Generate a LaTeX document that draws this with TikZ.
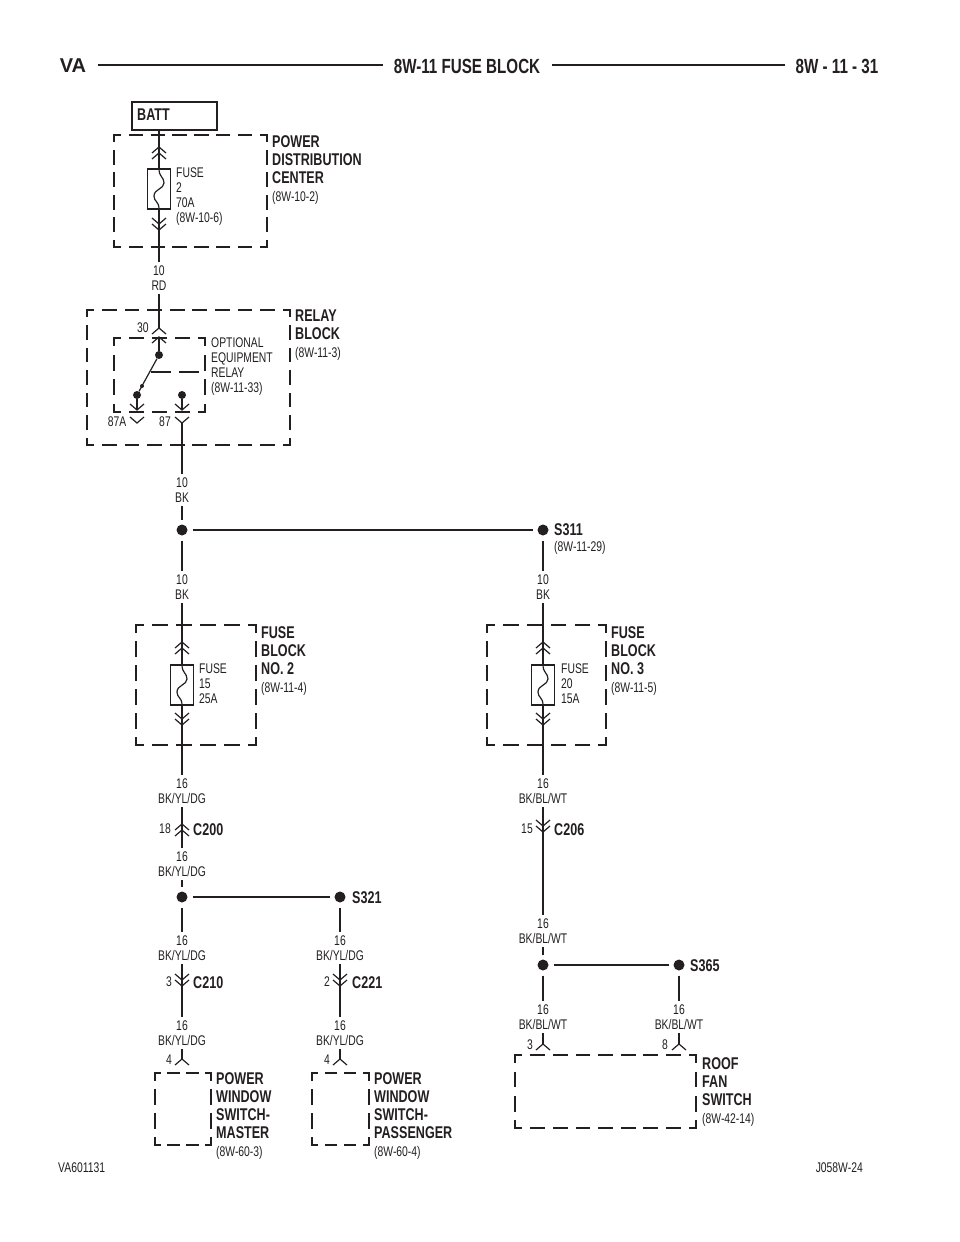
\documentclass[tikz,border=0pt]{standalone}
\usepackage{fontspec}
\setmainfont[FakeStretch=.74]{Liberation Sans}
\newfontfamily\vafont{Liberation Sans}
\usetikzlibrary{positioning, calc}
\definecolor{ink}{HTML}{231F20}
\newcommand{\smalltxt}{\fontsize{14}{14.5}\selectfont\mdseries}
\newcommand{\headtxt}{\fontsize{17}{18}\selectfont\bfseries}
\tikzset{
    wire/.style={ink, line width=1.2pt},
    bus/.style={ink, line width=2.4pt},
    dashbox/.style={ink, line width=2.3pt, line cap=rect},
    splice/.style={shape=circle, fill=ink, inner sep=0pt, minimum size=11pt, outer sep=5pt},
    pin/.style={shape=circle, fill=ink, inner sep=0pt, minimum size=8pt},
    wirelabel/.style={ink, align=center, font=\smalltxt, inner sep=1pt, outer sep=3pt},
    pinlabel/.style={ink, font=\smalltxt, inner sep=0pt},
    heading/.style={ink, align=left, anchor=north west, font=\headtxt, inner sep=0pt},
    fusetext/.style={ink, align=left, anchor=north west, font=\fontsize{14}{15}\selectfont, inner sep=0pt},
    fusebox/.style={draw=ink, line width=1.2pt, minimum width=23pt, minimum height=40pt, inner sep=0pt},
    title/.style={ink, font=\fontsize{20.5}{22}\selectfont\bfseries, inner sep=0pt},
    chevup/.pic={\draw[wire] (-7,6) -- (0,0) -- (7,6);},
    chevdown/.pic={\draw[wire] (-7,-6) -- (0,0) -- (7,-6);},
    dblup/.pic={\draw[wire] (-7,0) -- (0,-6) -- (7,0) (-7,6) -- (0,0) -- (7,6);},
    dbldown/.pic={\draw[wire] (-7,-6) -- (0,0) -- (7,-6) (-7,0) -- (0,6) -- (7,0);},
    fusecurve/.pic={\draw[wire] (0,-20) .. controls (0,-12) and (5,-12) .. (5,-6) .. controls (5,0) and (-5,0) .. (-5,7) .. controls (-5,13) and (0,12) .. (0,20);},
}
\begin{document}
\begin{tikzpicture}[x=1pt, y=-1pt]
    \useasboundingbox (0,0) rectangle (960,1242);
    % page header
    \node[title, font=\fontsize{20}{22}\selectfont\bfseries\vafont] (va) at (73,66) {VA};
    \node[title] (titlemid) at (467,66) {8W-11 FUSE BLOCK};
    \node[title] (titlepage) at (837,66) {8W - 11 - 31};
    \draw[bus] (98,65) -- (383,65);
    \draw[bus] (552,65) -- (785,65);
    \node[pinlabel, anchor=west] (figleft) at (58,1168) {VA601131};
    \node[pinlabel, anchor=east] (figright) at (863,1168) {J058W-24};
    % boxes
    \foreach \xa/\ya/\xb/\yb in {114/135/267/247, 87/310/290/445, 114/338/205/412, 136/625/256/745,
        487/625/606/745, 155/1073/211/1145, 312/1073/369/1145, 515/1055/696/1128}
        \foreach \ax/\ay/\bx/\by in {\xa/\ya/\xb/\ya, \xb/\ya/\xb/\yb, \xb/\yb/\xa/\yb, \xa/\yb/\xa/\ya} {
            \pgfmathsetmacro{\len}{abs(\bx-\ax)+abs(\by-\ay)}
            \pgfmathsetmacro{\per}{\len/round(\len/22)}
            \pgfmathsetmacro{\on}{\per*.55}
            \pgfmathsetmacro{\off}{\per-\on}
            \pgfmathsetmacro{\ph}{\on/2}
            \draw[dashbox, dash pattern=on \on pt off \off pt, dash phase=\ph pt] (\ax,\ay) -- (\bx,\by);
        };
    \node[draw=ink, line width=2pt, minimum width=85pt, minimum height=28pt, anchor=north west, inner sep=0pt] (batt) at (131,101) {};
    \node[heading, anchor=west] (batttext) at (137,115) {BATT};
    % fuses
    \node[fusebox] (fuse2) at (159,189) {};
    \node[fusebox] (fuse15) at (182,685) {};
    \node[fusebox] (fuse20) at (543,685) {};
    \foreach \f in {fuse2,fuse15,fuse20} \pic at (\f) {fusecurve};
    \node[fusetext] (fuse2text) at (176,168) {FUSE\\2\\70A\\(8W-10-6)};
    \node[fusetext] (fuse15text) at (199,664) {FUSE\\15\\25A};
    \node[fusetext] (fuse20text) at (561,664) {FUSE\\20\\15A};
    \node[fusetext] (relaytext) at (211,338) {OPTIONAL\\EQUIPMENT\\RELAY\\(8W-11-33)};
    % wire colour labels
    \foreach \name/\x/\y/\top/\bot in {lrd/159/278/10/RD, lbka/182/490/10/BK, lbkb/182/587/10/BK, lbkc/543/587/10/BK,
        lyla/182/791/16/{BK/YL/DG}, lylb/182/864/16/{BK/YL/DG}, lylc/182/948/16/{BK/YL/DG}, lyld/182/1033/16/{BK/YL/DG},
        lyle/340/948/16/{BK/YL/DG}, lylf/340/1033/16/{BK/YL/DG}, lbla/543/791/16/{BK/BL/WT}, lblb/543/931/16/{BK/BL/WT},
        lblc/543/1017/16/{BK/BL/WT}, lbld/679/1017/16/{BK/BL/WT}}
        \node[wirelabel] (\name) at (\x,\y) {\top\\\bot};
    % splices
    \node[splice] (s311a) at (182,530) {};
    \node[splice] (s311b) at (543,530) {};
    \node[splice] (s321a) at (182,897) {};
    \node[splice] (s321b) at (340,897) {};
    \node[splice] (s365a) at (543,965) {};
    \node[splice] (s365b) at (679,965) {};
    \draw[bus] (s311a) -- (s311b);
    \draw[bus] (s321a) -- (s321b);
    \draw[bus] (s365a) -- (s365b);
    % connectors
    \coordinate (c2up) at (159,153);
    \coordinate (c2down) at (159,224);
    \coordinate (c15up) at (182,648);
    \coordinate (c15down) at (182,719);
    \coordinate (c20up) at (543,648);
    \coordinate (c20down) at (543,719);
    \coordinate (c200) at (182,830);
    \coordinate (c206) at (543,826);
    \coordinate (c210) at (182,980);
    \coordinate (c221) at (340,980);
    \foreach \c in {c2up,c15up,c20up,c200} \pic at (\c) {dblup};
    \foreach \c in {c2down,c15down,c20down,c206,c210,c221} \pic at (\c) {dbldown};
    \coordinate (c30a) at (159,328);
    \coordinate (c30b) at (159,337);
    \coordinate (c87a) at (182,423);
    \coordinate (c87b) at (182,410);
    \coordinate (c87aa) at (137,423);
    \coordinate (c87ab) at (137,410);
    \coordinate (c4a) at (182,1059);
    \coordinate (c4b) at (340,1059);
    \coordinate (c3) at (543,1044);
    \coordinate (c8) at (679,1044);
    \foreach \c in {c30a,c30b,c4a,c4b,c3,c8} \pic at (\c) {chevup};
    \foreach \c in {c87a,c87b,c87aa,c87ab} \pic at (\c) {chevdown};
    % relay
    \node[pin] (relaycom) at (159,355) {};
    \node[pin] (relaync) at (137,395) {};
    \node[pin] (relayno) at (182,395) {};
    \coordinate (relayarm) at (151,372);
    \coordinate (relaycoil) at (203,372);
    \draw[wire] (relaycom) -- (relaync);
    \node[pin, minimum size=4pt] (relaytip) at (142,386) {};
    \draw[wire, dash pattern=on 20pt off 8pt] (relayarm) -- (relaycoil);
    \draw[wire] (c30b) -- (relaycom);
    \draw[wire] (relaync) -- (c87ab);
    \draw[wire] (relayno) -- (c87b);
    % wires
    \draw[wire] (batt.south -| fuse2) -- (fuse2);
    \draw[wire] (fuse2) -- (lrd);
    \draw[wire] (lrd) -- (c30a);
    \draw[wire] (c87a) -- (lbka);
    \draw[wire] (lbka) -- (s311a);
    \draw[wire] (s311a) -- (lbkb);
    \draw[wire] (lbkb) -- (fuse15);
    \draw[wire] (fuse15) -- (lyla);
    \draw[wire] (lyla) -- (lylb);
    \draw[wire] (lylb) -- (s321a);
    \draw[wire] (s321a) -- (lylc);
    \draw[wire] (lylc) -- (lyld);
    \draw[wire] (lyld) -- (c4a);
    \draw[wire] (s321b) -- (lyle);
    \draw[wire] (lyle) -- (lylf);
    \draw[wire] (lylf) -- (c4b);
    \draw[wire] (s311b) -- (lbkc);
    \draw[wire] (lbkc) -- (fuse20);
    \draw[wire] (fuse20) -- (lbla);
    \draw[wire] (lbla) -- (lblb);
    \draw[wire] (lblb) -- (s365a);
    \draw[wire] (s365a) -- (lblc);
    \draw[wire] (lblc) -- (c3);
    \draw[wire] (s365b) -- (lbld);
    \draw[wire] (lbld) -- (c8);
    % pin numbers
    \node[pinlabel] (p30) at (143,328) {30};
    \node[pinlabel] (p87a) at (117,422) {87A};
    \node[pinlabel] (p87) at (165,422) {87};
    \node[pinlabel] (p18) at (165,829) {18};
    \node[pinlabel] (p15) at (527,829) {15};
    \node[pinlabel] (p3a) at (169,982) {3};
    \node[pinlabel] (p2) at (327,982) {2};
    \node[pinlabel] (p4a) at (169,1060) {4};
    \node[pinlabel] (p4b) at (327,1060) {4};
    \node[pinlabel] (p3b) at (530,1045) {3};
    \node[pinlabel] (p8) at (665,1045) {8};
    % names
    \node[heading, anchor=west] (c200text) at (193,830) {C200};
    \node[heading, anchor=west] (c206text) at (554,830) {C206};
    \node[heading, anchor=west] (c210text) at (193,983) {C210};
    \node[heading, anchor=west] (c221text) at (352,983) {C221};
    \node[heading, anchor=west] (s311text) at (554,530) {S311};
    \node[fusetext, anchor=west] (s311ref) at (554,548) {(8W-11-29)};
    \node[heading, anchor=west] (s321text) at (352,898) {S321};
    \node[heading, anchor=west] (s365text) at (690,966) {S365};
    \node[heading] (pdctext) at (272,135) {POWER\\DISTRIBUTION\\CENTER\\{\smalltxt (8W-10-2)}};
    \node[heading] (relayblock) at (295,310) {RELAY\\BLOCK\\{\smalltxt (8W-11-3)}};
    \node[heading] (block2) at (261,626) {FUSE\\BLOCK\\NO. 2\\{\smalltxt (8W-11-4)}};
    \node[heading] (block3) at (611,626) {FUSE\\BLOCK\\NO. 3\\{\smalltxt (8W-11-5)}};
    \node[heading] (master) at (216,1072) {POWER\\WINDOW\\SWITCH-\\MASTER\\{\smalltxt (8W-60-3)}};
    \node[heading] (passenger) at (374,1072) {POWER\\WINDOW\\SWITCH-\\PASSENGER\\{\smalltxt (8W-60-4)}};
    \node[heading] (roof) at (702,1057) {ROOF\\FAN\\SWITCH\\{\smalltxt (8W-42-14)}};
\end{tikzpicture}
\end{document}
